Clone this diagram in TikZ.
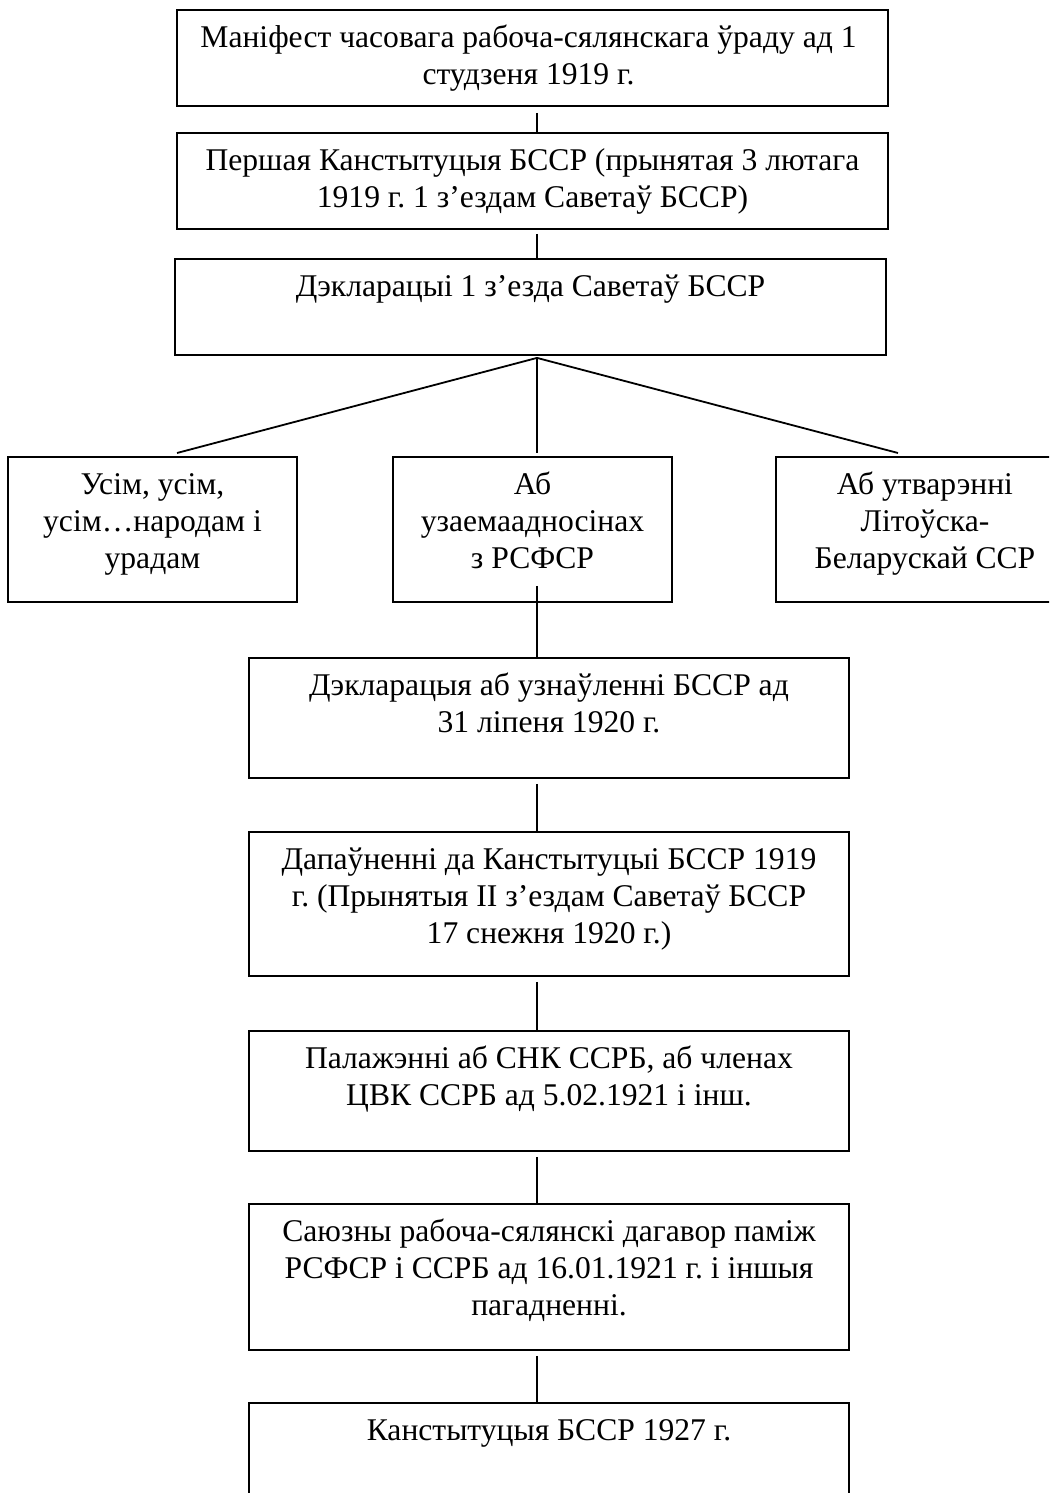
\documentclass[tikz,border=0pt]{standalone}
\usepackage{fontspec}
\setmainfont{Liberation Serif}
\frenchspacing
\begin{document}
\begin{tikzpicture}[x=1pt,y=-1pt,
  box/.style={draw, rectangle, inner sep=0pt, line width=1.8pt},
  txt/.style={anchor=north, inner sep=0pt, align=center, font=\fontsize{31.6}{37}\selectfont},
  conn/.style={line width=1.8pt}]
\useasboundingbox (0,0) rectangle (1049,1493);
\clip (0,0) rectangle (1049,1493);
\coordinate (sp) at (537,0);
% boxes
\node[box, minimum width=711pt, minimum height=96pt] (b1) at (532.5,58) {};
\node[box, minimum width=711pt, minimum height=96pt] (b2) at (532.5,181) {};
\node[box, minimum width=711pt, minimum height=96pt] (b3) at (530.5,307) {};
\node[box, minimum width=289pt, minimum height=145pt] (r1) at (152.5,529.5) {};
\node[box, minimum width=279pt, minimum height=145pt] (r2) at (532.5,529.5) {};
\node[box, minimum width=298pt, minimum height=145pt] (r3) at (925,529.5) {};
\node[box, minimum width=600pt, minimum height=120pt] (b4) at (549,718) {};
\node[box, minimum width=600pt, minimum height=144pt] (b5) at (549,904) {};
\node[box, minimum width=600pt, minimum height=120pt] (b6) at (549,1091) {};
\node[box, minimum width=600pt, minimum height=146pt] (b7) at (549,1277) {};
\node[box, minimum width=600pt, minimum height=137pt] (b8) at (549,1471.5) {};
% texts
\node[txt] (t1) at ([yshift=-13pt,xshift=-4pt]b1.north) {\rule{0pt}{25pt}Маніфест часовага рабоча-сялянскага ўраду ад 1\\студзеня 1919 г.};
\node[txt] (t2) at ([yshift=-13pt]b2.north) {\rule{0pt}{25pt}Першая Канстытуцыя БССР (прынятая 3 лютага\\1919 г. 1 з’ездам Саветаў БССР)};
\node[txt] (t3) at ([yshift=-13pt]b3.north) {\rule{0pt}{25pt}Дэкларацыі 1 з’езда Саветаў БССР};
\node[txt] (tr1) at ([yshift=-13pt]r1.north) {\rule{0pt}{25pt}Усім, усім,\\усім…народам і\\урадам};
\node[txt] (tr2) at ([yshift=-13pt]r2.north) {\rule{0pt}{25pt}Аб\\узаемаадносінах\\з РСФСР};
\node[txt] (tr3) at ([yshift=-13pt]r3.north) {\rule{0pt}{25pt}Аб утварэнні\\Літоўска-\\Беларускай ССР};
\node[txt] (t4) at ([yshift=-13pt]b4.north) {\rule{0pt}{25pt}Дэкларацыя аб узнаўленні БССР ад\\31 ліпеня 1920 г.};
\node[txt] (t5) at ([yshift=-13pt]b5.north) {\rule{0pt}{25pt}Дапаўненні да Канстытуцыі БССР 1919\\г. (Прынятыя II з’ездам Саветаў БССР\\17 снежня 1920 г.)};
\node[txt] (t6) at ([yshift=-13pt]b6.north) {\rule{0pt}{25pt}Палажэнні аб СНК ССРБ, аб членах\\ЦВК ССРБ ад 5.02.1921 і інш.};
\node[txt] (t7) at ([yshift=-13pt]b7.north) {\rule{0pt}{25pt}Саюзны рабоча-сялянскі дагавор паміж\\РСФСР і ССРБ ад 16.01.1921 г. і іншыя\\пагадненні.};
\node[txt] (t8) at ([yshift=-13pt]b8.north) {\rule{0pt}{25pt}Канстытуцыя БССР 1927 г.};
% fan coordinates
\coordinate (fl) at (177,453);
\coordinate (fm) at (537,453);
\coordinate (fr) at (898,453);
% connectors
\draw[conn] ([yshift=-6pt]b1.south -| sp) -- (b2.north -| sp);
\draw[conn] ([yshift=-4pt]b2.south -| sp) -- (b3.north -| sp);
\draw[conn] ([yshift=-2pt]b3.south -| sp) -- (fl);
\draw[conn] ([yshift=-2pt]b3.south -| sp) -- (fm);
\draw[conn] ([yshift=-2pt]b3.south -| sp) -- (fr);
\draw[conn] ([yshift=17pt]r2.south -| sp) -- (b4.north -| sp);
\draw[conn] ([yshift=-5pt]b4.south -| sp) -- (b5.north -| sp);
\draw[conn] ([yshift=-5pt]b5.south -| sp) -- (b6.north -| sp);
\draw[conn] ([yshift=-5pt]b6.south -| sp) -- (b7.north -| sp);
\draw[conn] ([yshift=-5pt]b7.south -| sp) -- (b8.north -| sp);
\end{tikzpicture}
\end{document}
